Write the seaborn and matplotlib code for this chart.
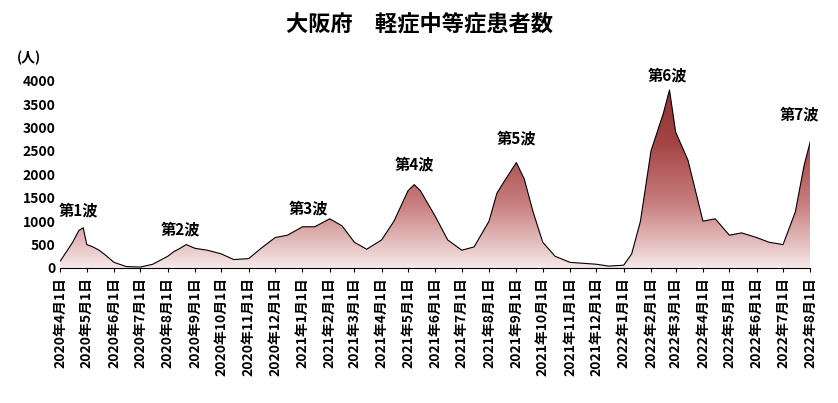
import numpy as np
import pandas as pd
import matplotlib
matplotlib.use("Agg")
import matplotlib.pyplot as plt
import matplotlib.dates as mdates
import seaborn as sns

plt.rcParams["font.family"] = "Noto Sans CJK JP"
plt.rcParams["font.weight"] = "bold"

dates = ["2020-04-01", "2020-04-08", "2020-04-15", "2020-04-22", "2020-04-27", "2020-05-01",
         "2020-05-08", "2020-05-15", "2020-05-22", "2020-06-01", "2020-06-15", "2020-07-01",
         "2020-07-15", "2020-07-22", "2020-08-01", "2020-08-08", "2020-08-15", "2020-08-22",
         "2020-09-01", "2020-09-15", "2020-10-01", "2020-10-15", "2020-11-01", "2020-11-15",
         "2020-12-01", "2020-12-15", "2021-01-01", "2021-01-15", "2021-02-01", "2021-02-15",
         "2021-03-01", "2021-03-15", "2021-04-01", "2021-04-15", "2021-05-01", "2021-05-08",
         "2021-05-15", "2021-06-01", "2021-06-15", "2021-07-01", "2021-07-15", "2021-08-01",
         "2021-08-10", "2021-08-20", "2021-09-01", "2021-09-10", "2021-09-20", "2021-10-01",
         "2021-10-15", "2021-11-01", "2021-12-01", "2021-12-15", "2022-01-01", "2022-01-10",
         "2022-01-20", "2022-02-01", "2022-02-15", "2022-02-22", "2022-03-01", "2022-03-15",
         "2022-04-01", "2022-04-15", "2022-05-01", "2022-05-15", "2022-06-01", "2022-06-15",
         "2022-07-01", "2022-07-15", "2022-07-25", "2022-08-01"]
patients = [150, 350, 550, 800, 860, 500, 450, 380, 280, 120, 30, 20, 80, 150, 250, 350, 420, 500,
            420, 380, 300, 180, 200, 420, 650, 700, 880, 880, 1050, 900, 550, 400, 600, 1000,
            1650, 1780, 1650, 1100, 600, 380, 450, 1000, 1600, 1900, 2250, 1900, 1200, 550, 250,
            120, 80, 40, 60, 300, 1000, 2500, 3300, 3800, 2900, 2300, 1000, 1050, 700, 750, 650,
            550, 500, 1200, 2200, 2700]

wave_labels = ["第1波", "第2波", "第3波", "第4波", "第5波", "第6波", "第7波"]
wave_dates = ["2020-04-22", "2020-08-15", "2021-01-08", "2021-05-08", "2021-09-01", "2022-02-20", "2022-07-20"]
wave_y = [1050, 650, 1100, 2050, 2600, 3930, 3100]

df = pd.DataFrame({"date": pd.to_datetime(dates), "n": patients})

fig, ax = plt.subplots(figsize=(8.38, 4.03), dpi=100)
fig.subplots_adjust(left=0.072, right=0.967, top=0.80, bottom=0.335)

x = mdates.date2num(df["date"])
ymax = 4000
# gradient fill clipped to the area
grad = np.linspace(0, 1, 256).reshape(-1, 1)
cmap = matplotlib.colors.LinearSegmentedColormap.from_list("g", ["#f7e8e8", "#c98080", "#a44545", "#8c2f2f"])
img = ax.imshow(grad, cmap=cmap, aspect="auto", origin="lower",
                extent=[x.min(), x.max(), 0, ymax], zorder=1)
poly = ax.fill_between(x, 0, df["n"], color="none")
img.set_clip_path(poly.get_paths()[0], transform=ax.transData)
sns.lineplot(x=x, y=df["n"], ax=ax, color="black", linewidth=0.8, zorder=2)

for lab, d, yv in zip(wave_labels, wave_dates, wave_y):
    ax.text(mdates.date2num(pd.Timestamp(d)), yv, lab, ha="center", va="bottom",
            fontsize=11, fontweight="bold")

ticks = pd.date_range("2020-04-01", "2022-08-01", freq="MS")
ax.set_xticks(mdates.date2num(ticks))
ax.set_xticklabels([f"{t.year}年{t.month}月1日" for t in ticks], rotation=90, fontsize=10)
ax.set_xlim(x.min(), x.max())
ax.set_ylim(0, 4000)
ax.set_yticks(range(0, 4001, 500))
ax.tick_params(axis="y", length=0, labelsize=10)
ax.tick_params(axis="x", length=3)
for s in ["top", "right", "left"]:
    ax.spines[s].set_visible(False)
ax.set_xlabel("")
ax.set_ylabel("")
fig.text(0.02, 0.845, "(人)", fontsize=10, fontweight="bold")
fig.suptitle("大阪府　軽症中等症患者数", fontsize=16, fontweight="bold", y=0.97)
fig.savefig("out.png", dpi=100)
